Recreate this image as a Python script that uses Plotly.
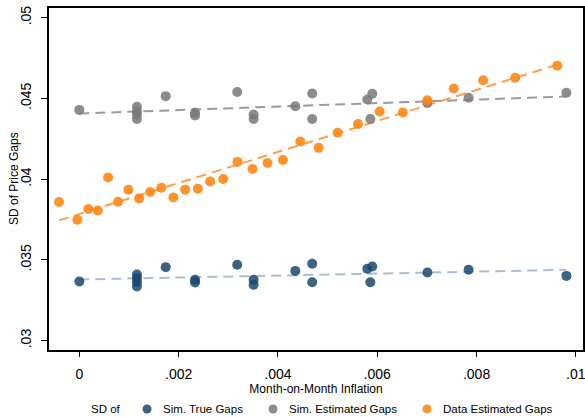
import numpy as np
import plotly.graph_objects as go

# Month-on-month inflation bins used by the simulated series
sim_infl = [0.0, 0.00116, 0.00116, 0.00116, 0.00116, 0.00174, 0.00233, 0.00233,
            0.00318, 0.00351, 0.00351, 0.00435, 0.00469, 0.00469, 0.00580,
            0.00590, 0.00586, 0.00701, 0.00784, 0.00981]

# SD of simulated true price gaps
sim_true_sd = [0.03366, 0.03410, 0.03387, 0.03362, 0.03335, 0.03455, 0.03377, 0.03360,
               0.03470, 0.03377, 0.03346, 0.03432, 0.03476, 0.03362, 0.03445,
               0.03459, 0.03362, 0.03422, 0.03439, 0.03401]

# SD of simulated estimated price gaps
sim_est_sd = [0.04429, 0.04448, 0.04419, 0.04400, 0.04373, 0.04514, 0.04411, 0.04394,
              0.04540, 0.04400, 0.04373, 0.04452, 0.04530, 0.04373, 0.04493,
              0.04529, 0.04373, 0.04471, 0.04504, 0.04535]

# Inflation bins and SD of estimated gaps in the data
data_infl = [-0.000409, -0.000040, 0.000181, 0.000371, 0.000579, 0.000780, 0.000988,
             0.001204, 0.001425, 0.001653, 0.001895, 0.002131, 0.002387, 0.002635,
             0.002897, 0.003185, 0.003488, 0.003790, 0.004101, 0.004450, 0.004819,
             0.005202, 0.005613, 0.006048, 0.006516, 0.007010, 0.007540, 0.008133,
             0.008778, 0.009625]
data_est_sd = [0.03859, 0.03749, 0.03815, 0.03806, 0.04011, 0.03860, 0.03935, 0.03881,
               0.03921, 0.03947, 0.03887, 0.03935, 0.03941, 0.03986, 0.04001, 0.04107,
               0.04063, 0.04100, 0.04119, 0.04233, 0.04194, 0.04287, 0.04342, 0.04419,
               0.04413, 0.04488, 0.04561, 0.04613, 0.04628, 0.04702]

x_ticks = [0, 0.002, 0.004, 0.006, 0.008, 0.01]
x_tick_text = ["0", ".002", ".004", ".006", ".008", ".01"]
y_ticks = [0.03, 0.035, 0.04, 0.045, 0.05]
y_tick_text = [".03", ".035", ".04", ".045", ".05"]

series_names = ["Sim. True Gaps", "Sim. Estimated Gaps", "Data Estimated Gaps"]
marker_colors = ["rgba(26,71,111,0.85)", "rgba(120,120,120,0.85)", "rgba(255,135,20,0.9)"]
fit_colors = ["rgb(170,190,210)", "rgb(155,155,155)", "rgb(252,160,75)"]
series_x = [sim_infl, sim_infl, data_infl]
series_y = [sim_true_sd, sim_est_sd, data_est_sd]

W, H = 585, 417
M = dict(l=49, r=2, t=8, b=67)
plot_w = W - M["l"] - M["r"]
plot_h = H - M["t"] - M["b"]


def px_to_paper(px, py):
    return (px - M["l"]) / plot_w, (H - M["b"] - py) / plot_h


fig = go.Figure()

# Linear fits first so the markers sit on top
for xs, ys, lcol in zip(series_x, series_y, fit_colors):
    xs_a = np.array(xs)
    ys_a = np.array(ys)
    slope, icpt = np.polyfit(xs_a, ys_a, 1)
    xf = np.array([xs_a.min(), xs_a.max()])
    fig.add_trace(go.Scatter(
        x=xf, y=icpt + slope * xf, mode="lines", showlegend=False,
        line=dict(color=lcol, width=2, dash="10px,6px"), hoverinfo="skip",
    ))

for name, xs, ys, mcol in zip(series_names, series_x, series_y, marker_colors):
    fig.add_trace(go.Scatter(
        x=xs, y=ys, mode="markers", name=name, showlegend=False,
        marker=dict(size=10, color=mcol, line=dict(width=0)),
    ))

font = "Liberation Sans, Arial, sans-serif"

# Legend row along the bottom: "SD of" followed by a dot + label per series
legend_y_px = 409
annotations = []
shapes = []
lx, ly = px_to_paper(89, legend_y_px)
annotations.append(dict(text="SD of", x=lx, y=ly, xref="paper", yref="paper",
                        xanchor="left", yanchor="middle", showarrow=False,
                        font=dict(size=11.5)))
dot_px = [147, 273, 427]
for name, mcol, dpx in zip(series_names, marker_colors, dot_px):
    dx, dy = px_to_paper(dpx, legend_y_px)
    shapes.append(dict(type="circle", xref="paper", yref="paper",
                       xsizemode="pixel", ysizemode="pixel", xanchor=dx, yanchor=dy,
                       x0=-4.5, x1=4.5, y0=-4.5, y1=4.5,
                       fillcolor=mcol, line=dict(width=0)))
    tx, ty = px_to_paper(dpx + 14, legend_y_px)
    annotations.append(dict(text=name, x=tx, y=ty, xref="paper", yref="paper",
                            xanchor="left", yanchor="middle", showarrow=False,
                            font=dict(size=11.5)))

# Rotated y-axis title
yt_x, yt_y = px_to_paper(14, 179)
annotations.append(dict(text="SD of Price Gaps", x=yt_x, y=yt_y, xref="paper", yref="paper",
                        xanchor="center", yanchor="middle", textangle=-90, showarrow=False,
                        font=dict(size=12)))

fig.update_layout(
    width=W, height=H,
    margin=dict(**M, autoexpand=False),
    paper_bgcolor="white", plot_bgcolor="white",
    font=dict(family=font, color="black", size=12),
    showlegend=False,
    annotations=annotations,
    shapes=shapes,
    xaxis=dict(
        range=[-0.000611, 0.010144], tickvals=x_ticks, ticktext=x_tick_text,
        showgrid=False, zeroline=False, showline=True, linecolor="black", linewidth=1.5,
        mirror=True, ticks="outside", ticklen=5, tickcolor="black", ticklabelstandoff=5,
        ticklabeloverflow="allow",
        tickfont=dict(size=14), title=dict(text="Month-on-Month Inflation", font=dict(size=12), standoff=2),
    ),
    yaxis=dict(
        range=[0.02942, 0.0506], tickvals=y_ticks, ticktext=y_tick_text,
        showgrid=False, zeroline=False, showline=True, linecolor="black", linewidth=1.5,
        mirror=True, ticks="outside", ticklen=6, tickcolor="black", tickangle=-90,
        ticklabelstandoff=5, ticklabeloverflow="allow", tickfont=dict(size=14),
    ),
)

fig.write_html("out.html")
